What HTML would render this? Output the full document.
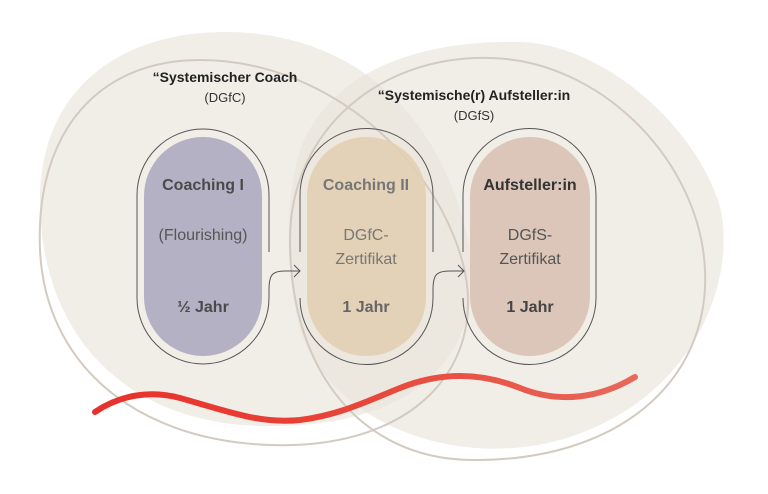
<!DOCTYPE html>
<html><head><meta charset="utf-8"><style>
html,body{margin:0;padding:0;background:#fff;}
svg{display:block}
text{font-family:"Liberation Sans",sans-serif;}
</style></head><body>
<svg width="768" height="494" viewBox="0 0 768 494" xmlns="http://www.w3.org/2000/svg">
<defs>
<linearGradient id="rg" x1="95" y1="0" x2="635" y2="0" gradientUnits="userSpaceOnUse">
<stop offset="0" stop-color="#e8302a"/><stop offset="0.5" stop-color="#e8463a"/><stop offset="1" stop-color="#e8685a"/>
</linearGradient>
</defs>
<path d="M40,200 C40,90 120,30 230,32 C350,34 440,110 468,240 C490,350 420,430 260,426 C120,422 40,330 40,200 Z" fill="#e8e3da" opacity="0.62"/>
<path d="M300,150 C330,70 420,40 520,42 C600,44 690,120 718,200 C740,270 700,400 560,440 C450,470 330,420 300,330 C285,270 285,200 300,150 Z" fill="#e8e3da" opacity="0.62"/>
<path d="M40,250 C35,130 100,60 200,60 C320,60 430,150 462,260 C490,360 420,450 270,445 C130,440 45,360 40,250 Z" fill="none" stroke="#d3cbc2" stroke-width="2"/>
<path d="M290,240 C290,130 380,55 490,58 C600,60 700,160 705,270 C710,380 620,462 470,460 C360,458 290,370 290,240 Z" fill="none" stroke="#d3cbc2" stroke-width="2"/>
<rect x="144" y="137" width="118" height="219" rx="59" fill="#b5b1c4"/>
<rect x="307" y="137" width="119" height="219" rx="59" fill="#e2cfb2" opacity="0.9"/>
<rect x="470" y="137" width="120" height="219" rx="60" fill="#dbc6b9"/>
<g fill="none" stroke="#555" stroke-width="1">
<path d="M269,252 V195 A66,66 0 0 0 137,195 V298 A66,66 0 0 0 269,298 V290 C269,275 272,271 285,271 H300"/>
<path d="M294,265 L300,271 L294,277"/>
<path d="M300,252 V195 A66,66 0 0 1 433,195 V252"/>
<path d="M300,298 A66,66 0 0 0 433,298 V290 C433,275 436,271 450,271 H464"/>
<path d="M458,265 L464,271 L458,277"/>
<path d="M463,252 V195 A66,66 0 0 1 596,195 V298 A66,66 0 0 1 463,298"/>
</g>
<path d="M95,412 C120,395 150,390 180,398 C230,412 260,424 300,420 C340,415 370,400 400,388 C440,372 480,372 520,388 C560,404 600,398 635,377" fill="none" stroke="url(#rg)" stroke-width="6" stroke-linecap="round"/>
<text x="225" y="82" text-anchor="middle" font-size="14" font-weight="bold" fill="#222">“Systemischer Coach</text>
<text x="225" y="102" text-anchor="middle" font-size="13" fill="#333">(DGfC)</text>
<text x="474" y="100" text-anchor="middle" font-size="14" font-weight="bold" fill="#222">“Systemische(r) Aufsteller:in</text>
<text x="474" y="120" text-anchor="middle" font-size="13" fill="#333">(DGfS)</text>
<g text-anchor="middle" font-size="16">
<text x="203" y="190" font-weight="bold" fill="#4a4a4a">Coaching I</text>
<text x="203" y="240" fill="#555">(Flourishing)</text>
<text x="203" y="312" font-weight="bold" fill="#4a4a4a">½ Jahr</text>
<text x="366" y="190" font-weight="bold" fill="#777">Coaching II</text>
<text x="366" y="240" fill="#777">DGfC-</text>
<text x="366" y="264" fill="#777">Zertifikat</text>
<text x="366" y="312" font-weight="bold" fill="#666">1 Jahr</text>
<text x="530" y="190" font-weight="bold" fill="#333">Aufsteller:in</text>
<text x="530" y="240" fill="#555">DGfS-</text>
<text x="530" y="264" fill="#555">Zertifikat</text>
<text x="530" y="312" font-weight="bold" fill="#444">1 Jahr</text>
</g>
</svg>
</body></html>
